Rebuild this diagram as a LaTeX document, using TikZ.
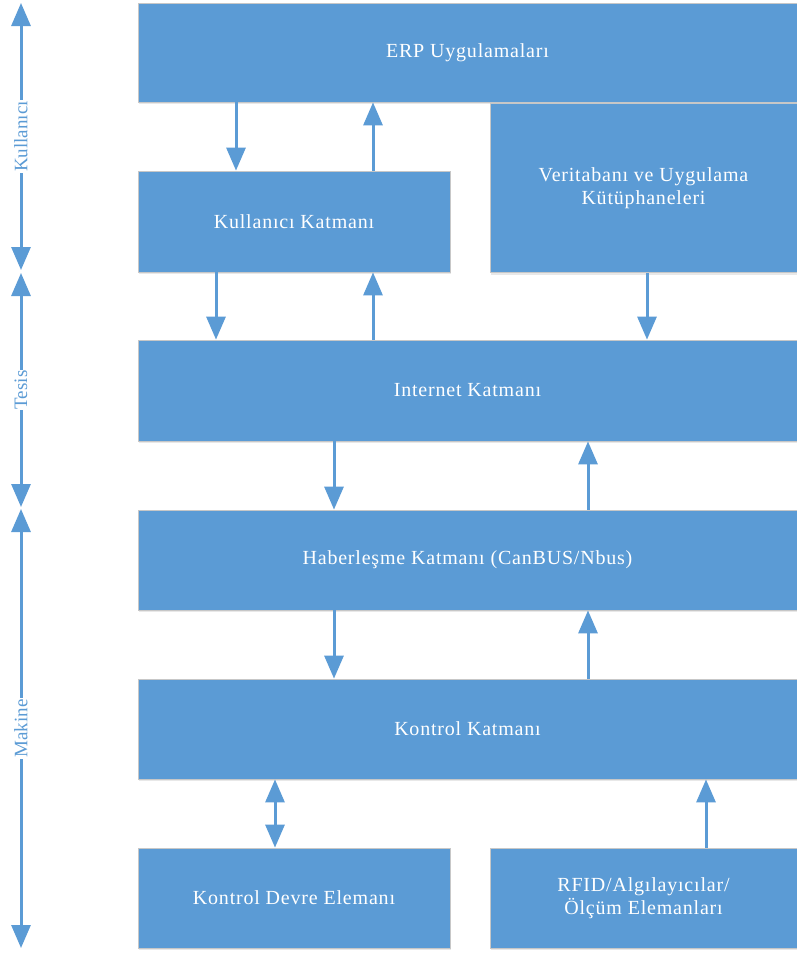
\documentclass[tikz,border=0pt]{standalone}
\usepackage{fontspec}
\setmainfont{Liberation Serif}
\newfontfamily\katmanfont[LetterSpace=4]{Liberation Serif}
\usetikzlibrary{arrows.meta,shadows}
\definecolor{katmanblue}{RGB}{91,155,213}
\tikzset{
    katman/.style={draw=black!22,line width=0.8pt,fill=katmanblue,text=white,
      font=\katmanfont\fontsize{20}{23}\selectfont,align=center,inner sep=0pt,
      drop shadow={shadow xshift=1pt,shadow yshift=-2pt,opacity=.18}},
    conn/.style={draw=katmanblue,line width=3pt,-{Triangle[width=19pt,length=23pt]}},
    connboth/.style={draw=katmanblue,line width=3pt,{Triangle[width=19pt,length=23pt]}-{Triangle[width=19pt,length=23pt]}},
    seviye/.style={fill=white,text=katmanblue,inner sep=1pt,rotate=90,font=\fontsize{19}{19}\selectfont}}

\begin{document}
\begin{tikzpicture}[x=1pt,y=-1pt]
  \fill[white] (0,0) rectangle (797,954);
  \useasboundingbox (0,0) rectangle (797,954);

  \node [katman,minimum width=659,minimum height=99] (erp) at (467.5,52.5) {ERP Uygulamaları};
  \node [katman,minimum width=312,minimum height=101] (kul) at (294,221.5) {Kullanıcı Katmanı};
  \node [katman,minimum width=307,minimum height=169] (vt) at (643.5,188) {Veritabanı ve Uygulama\\Kütüphaneleri};
  \node [katman,minimum width=659,minimum height=101] (net) at (467.5,390.5) {Internet Katmanı};
  \node [katman,minimum width=659,minimum height=100] (hab) at (467.5,560) {Haberleşme Katmanı (CanBUS/Nbus)};
  \node [katman,minimum width=659,minimum height=100] (kon) at (467.5,729) {Kontrol Katmanı};
  \node [katman,minimum width=312,minimum height=100] (kde) at (294,898) {Kontrol Devre Elemanı};
  \node [katman,minimum width=307,minimum height=100] (rfid) at (643.5,898) {RFID/Algılayıcılar/\\Ölçüm Elemanları};

  % columns of the arrows
  \foreach \x in {216,236,275,334,373,588,647,706}
    \coordinate (c\x) at (\x,0);

  \foreach \from/\to/\x in {erp/kul/236,kul/net/216,vt/net/647,net/hab/334,hab/kon/334}
    \draw[conn] (\from.south -| c\x) -- (\to.north -| c\x);

  \foreach \from/\to/\x in {kul/erp/373,net/kul/373,hab/net/588,kon/hab/588,rfid/kon/706}
    \draw[conn] (\from.north -| c\x) -- (\to.south -| c\x);

  \draw[connboth] (kon.south -| c275) -- (kde.north -| c275);

  % levels on the left
  \coordinate (a1) at (21,3);
  \coordinate (a2) at (21,270);
  \coordinate (a3) at (21,273);
  \coordinate (a4) at (21,507);
  \coordinate (a5) at (21,509);
  \coordinate (a6) at (21,948);
  \draw[connboth] (a1) -- node[seviye] (s1) {Kullanıcı} (a2);
  \draw[connboth] (a3) -- node[seviye] (s2) {Tesis} (a4);
  \draw[connboth] (a5) -- node[seviye] (s3) {Makine} (a6);
\end{tikzpicture}
\end{document}
